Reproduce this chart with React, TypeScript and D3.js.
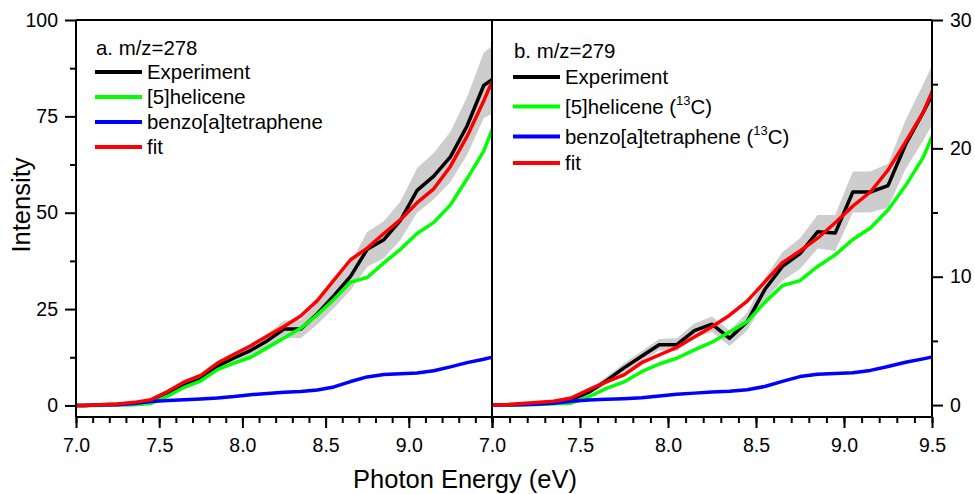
import React, { useEffect, useRef } from 'react';
import * as d3 from 'd3';

// photon energy grid (eV), one point every 0.1 eV
const energy = [6.95, 7.05, 7.15, 7.25, 7.35, 7.45, 7.55, 7.65, 7.75, 7.85, 7.95, 8.05, 8.15, 8.25, 8.35, 8.45, 8.55, 8.65, 8.75, 8.85, 8.95, 9.05, 9.15, 9.25, 9.35, 9.45, 9.55];

// panel a, m/z=278
const expA = [0, 0, 0.2, 0.3, 0.6, 1.2, 3.0, 5.2, 6.8, 10.2, 12.3, 14.3, 16.8, 19.8, 19.8, 23.8, 28.5, 33.5, 40.5, 43, 48, 55.8, 59.5, 64.5, 72.5, 83, 86];
const errA = [0.3, 0.3, 0.3, 0.3, 0.4, 0.5, 0.6, 0.8, 0.9, 1.2, 1.4, 1.6, 1.8, 2.2, 2.4, 2.8, 3.2, 3.6, 4.5, 4.8, 5.0, 5.8, 6.0, 6.5, 7.5, 8.5, 9];
const helA = [0, 0, 0, 0.1, 0.2, 0.5, 2.4, 4.7, 6.4, 9.3, 11.0, 12.5, 15, 17.5, 20, 23.5, 27.5, 32, 33.2, 37, 40.5, 44.6, 47.5, 52, 58.8, 66, 77];
const benzA = [0, 0, 0.1, 0.2, 0.5, 1.0, 1.3, 1.5, 1.7, 1.9, 2.3, 2.8, 3.1, 3.4, 3.6, 4.0, 4.8, 6.2, 7.4, 8.0, 8.2, 8.4, 9.0, 10.0, 11.1, 12.0, 13.0];
const fitA = [0, 0, 0.2, 0.4, 0.8, 1.5, 3.6, 6.1, 7.8, 11, 13.3, 15.5, 18, 20.5, 23.2, 27.2, 32.5, 37.8, 40.8, 44.6, 48.2, 52.6, 56.2, 62, 69.8, 79, 89];

// panel b, m/z=279
const expB = [0, 0, 0.05, 0.1, 0.2, 0.4, 1.0, 1.9, 2.9, 3.8, 4.7, 4.7, 5.8, 6.3, 5.2, 6.5, 9.0, 10.8, 11.8, 13.5, 13.4, 16.6, 16.6, 17.1, 20.3, 22.8, 25.5];
const errB = [0.1, 0.1, 0.1, 0.1, 0.12, 0.15, 0.2, 0.3, 0.35, 0.4, 0.45, 0.5, 0.55, 0.6, 0.6, 0.7, 0.9, 1.1, 1.2, 1.3, 1.4, 1.6, 1.6, 1.7, 1.9, 2.2, 2.4];
const helB = [0, 0, 0, 0.05, 0.1, 0.15, 0.65, 1.3, 1.8, 2.6, 3.2, 3.65, 4.3, 4.9, 5.7, 6.5, 8.0, 9.3, 9.7, 10.8, 11.7, 12.9, 13.8, 15.2, 17.1, 19.3, 22.5];
const benzB = [0, 0, 0.03, 0.06, 0.15, 0.3, 0.4, 0.45, 0.5, 0.57, 0.7, 0.85, 0.93, 1.02, 1.08, 1.2, 1.45, 1.85, 2.22, 2.4, 2.46, 2.52, 2.7, 3.0, 3.33, 3.6, 3.9];
const fitB = [0, 0, 0.1, 0.2, 0.3, 0.55, 1.2, 1.8, 2.35, 3.3, 3.9, 4.5, 5.3, 6.1, 7.0, 8.1, 9.6, 11.1, 12.0, 13.0, 14.2, 15.5, 16.6, 18.3, 20.5, 22.8, 26];

const xTicksA = [7.0, 7.5, 8.0, 8.5, 9.0];
const xTicksB = [7.0, 7.5, 8.0, 8.5, 9.0, 9.5];
const yTicksA = [0, 25, 50, 75, 100];
const yTicksB = [0, 10, 20, 30];

const FONT = '"Liberation Sans", Arial, sans-serif';

function App() {
  const svgRef = useRef(null);

  useEffect(() => {
    document.body.style.margin = '0';
    const svg = d3.select(svgRef.current);
    svg.selectAll('*').remove();

    const top = 20, bottom = 417;
    const xA = d3.scaleLinear().domain([7, 9.5]).range([76, 492]);
    const xB = d3.scaleLinear().domain([7, 9.5]).range([492, 932]);
    const yA = d3.scaleLinear().domain([-3, 100]).range([bottom, top]);
    const yB = d3.scaleLinear().domain([-0.93, 30]).range([bottom, top]);

    const defs = svg.append('defs');
    const panels = [
      { id: 'a', x: xA, y: yA, exp: expA, err: errA, hel: helA, benz: benzA, fit: fitA },
      { id: 'b', x: xB, y: yB, exp: expB, err: errB, hel: helB, benz: benzB, fit: fitB },
    ];

    panels.forEach(p => {
      const [x0, x1] = p.x.range();
      defs.append('clipPath').attr('id', 'clip-' + p.id)
        .append('rect').attr('x', x0).attr('y', top).attr('width', x1 - x0).attr('height', bottom - top);

      const g = svg.append('g').attr('clip-path', `url(#clip-${p.id})`);
      const idx = d3.range(energy.length);

      const band = d3.area()
        .x(i => p.x(energy[i]))
        .y0(i => p.y(p.exp[i] - p.err[i]))
        .y1(i => p.y(p.exp[i] + p.err[i]));
      g.append('path').attr('d', band(idx)).attr('fill', '#cdcdcd');

      const series = [
        { vals: p.exp, color: '#000000' },
        { vals: p.hel, color: '#00ff00' },
        { vals: p.benz, color: '#0000ff' },
        { vals: p.fit, color: '#ff0000' },
      ];
      series.forEach(s => {
        const line = d3.line()
          .x(i => p.x(energy[i]))
          .y(i => p.y(s.vals[i]));
        g.append('path').attr('d', line(idx))
          .attr('fill', 'none').attr('stroke', s.color)
          .attr('stroke-width', 3.5).attr('stroke-linejoin', 'round');
      });
    });

    const styleAxis = (sel) => {
      sel.select('.domain').remove();
      sel.selectAll('line').attr('stroke', '#000').attr('stroke-width', 2);
      sel.selectAll('text').attr('font-family', FONT).attr('font-size', 19.5).attr('fill', '#000');
    };

    // x axes
    const minorX = d3.range(7, 9.51, 0.1).map(v => +v.toFixed(1));
    [[xA, xTicksA, [...xTicksA, 9.5]], [xB, xTicksB, xTicksB]].forEach(([sc, labels, majors]) => {
      svg.append('g').attr('transform', `translate(0,${bottom})`)
        .call(d3.axisBottom(sc).tickValues(minorX).tickSize(6).tickFormat(() => ''))
        .call(styleAxis);
      svg.append('g').attr('transform', `translate(0,${bottom})`)
        .call(d3.axisBottom(sc).tickValues(majors).tickSize(11).tickPadding(10)
          .tickFormat(v => labels.includes(v) ? d3.format('.1f')(v) : ''))
        .call(styleAxis);
    });

    // left y axis
    svg.append('g').attr('transform', 'translate(76,0)')
      .call(d3.axisLeft(yA).tickValues([12.5, 37.5, 62.5, 87.5]).tickSize(6).tickFormat(() => ''))
      .call(styleAxis);
    svg.append('g').attr('transform', 'translate(76,0)')
      .call(d3.axisLeft(yA).tickValues(yTicksA).tickSize(11).tickPadding(7))
      .call(styleAxis);

    // right y axis
    svg.append('g').attr('transform', 'translate(932,0)')
      .call(d3.axisRight(yB).tickValues([5, 15, 25]).tickSize(6).tickFormat(() => ''))
      .call(styleAxis);
    svg.append('g').attr('transform', 'translate(932,0)')
      .call(d3.axisRight(yB).tickValues(yTicksB).tickSize(11).tickPadding(7))
      .call(styleAxis);

    // frame
    const frame = svg.append('g').attr('stroke', '#000').attr('stroke-width', 2);
    frame.append('line').attr('x1', 76).attr('x2', 932).attr('y1', top).attr('y2', top);
    frame.append('line').attr('x1', 76).attr('x2', 932).attr('y1', bottom).attr('y2', bottom);
    [76, 492, 932].forEach(xx => {
      frame.append('line').attr('x1', xx).attr('x2', xx).attr('y1', top).attr('y2', bottom);
    });

    // axis titles
    svg.append('text').attr('x', 465).attr('y', 488).attr('text-anchor', 'middle')
      .attr('font-family', FONT).attr('font-size', 25.5).text('Photon Energy (eV)');
    svg.append('text').attr('transform', 'translate(30,205) rotate(-90)').attr('text-anchor', 'middle')
      .attr('font-family', FONT).attr('font-size', 25.5).text('Intensity');

    // legends
    const legend = (x, titleY, title, rowYs, items) => {
      const lg = svg.append('g').attr('font-family', FONT).attr('font-size', 20.4);
      lg.append('text').attr('x', x + 1).attr('y', titleY).text(title);
      items.forEach((it, i) => {
        const yy = rowYs[i];
        lg.append('line').attr('x1', x).attr('x2', x + 47).attr('y1', yy).attr('y2', yy)
          .attr('stroke', it.color).attr('stroke-width', 4);
        const t = lg.append('text').attr('x', x + 52).attr('y', yy + 7);
        t.append('tspan').text(it.label);
        if (it.sup) {
          t.append('tspan').text(' (');
          t.append('tspan').attr('font-size', 13).attr('dy', -9).text('13');
          t.append('tspan').attr('dy', 9).text('C)');
        }
      });
    };
    legend(95, 55, 'a. m/z=278', [72, 97, 122, 147], [
      { label: 'Experiment', color: '#000000' },
      { label: '[5]helicene', color: '#00ff00' },
      { label: 'benzo[a]tetraphene', color: '#0000ff' },
      { label: 'fit', color: '#ff0000' },
    ]);
    legend(513, 58, 'b. m/z=279', [77, 106.5, 136.5, 163], [
      { label: 'Experiment', color: '#000000' },
      { label: '[5]helicene', color: '#00ff00', sup: true },
      { label: 'benzo[a]tetraphene', color: '#0000ff', sup: true },
      { label: 'fit', color: '#ff0000' },
    ]);
  }, []);

  return <svg ref={svgRef} width={975} height={494} style={{ display: 'block', background: '#fff' }} />;
}

export default App;
